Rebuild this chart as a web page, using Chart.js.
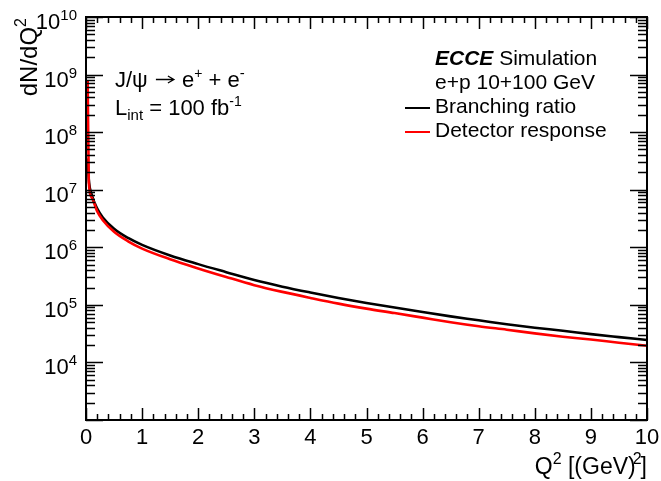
<!DOCTYPE html>
<html>
<head>
<meta charset="utf-8">
<script src="https://cdn.jsdelivr.net/npm/chart.js@4.4.1/dist/chart.umd.min.js"></script>
<style>
html,body{margin:0;padding:0;background:#fff;}
canvas{display:block;}
</style>
</head>
<body>
<canvas id="c" width="661" height="481"></canvas>
<script>
// ---- data ----
const q2 = [0.03, 0.05, 0.1, 0.2, 0.3, 0.5, 0.75, 1, 1.5, 2, 2.5, 3, 3.5, 4, 4.5, 5, 5.5, 6, 6.5, 7, 7.5, 8, 8.5, 9, 9.5, 10];
const branchingRatio = [3.5e7, 1.5e7, 8.3e6, 4.7e6, 3.3e6, 2.1e6, 1.45e6, 1.1e6, 7.2e5, 5.1e5, 3.7e5, 2.7e5, 2.07e5, 1.64e5, 1.32e5, 1.08e5, 9.0e4, 7.5e4, 6.3e4, 5.4e4, 4.6e4, 4.0e4, 3.55e4, 3.1e4, 2.75e4, 2.45e4];
const detectorResponse = [8.0e8, 1.35e7, 7.4e6, 4.2e6, 2.95e6, 1.86e6, 1.27e6, 9.5e5, 6.2e5, 4.3e5, 3.05e5, 2.2e5, 1.68e5, 1.32e5, 1.05e5, 8.6e4, 7.2e4, 6.0e4, 5.0e4, 4.25e4, 3.7e4, 3.2e4, 2.8e4, 2.5e4, 2.2e4, 1.95e4];
const xTickLabels = ['0','1','2','3','4','5','6','7','8','9','10'];
const xTickValues = [0,1,2,3,4,5,6,7,8,9,10];
const yLabelExponents = [4,5,6,7,8,9,10];
const seriesNames = ['Branching ratio', 'Detector response'];

const FONT = "'Liberation Sans', Arial, Helvetica, sans-serif";

function pts(xs, ys){ return xs.map((v,i)=>({x:v, y:ys[i]})); }

function fontOf(s){ return (s.italic?'italic ':'')+(s.bold?'bold ':'')+(s.size||21)+'px '+FONT; }
// draw a sequence of text segments
function drawRich(ctx, x, y, segs, align){
  const widths = segs.map(s=>{
    if(s.arrow) return s.w;
    ctx.font = fontOf(s); return ctx.measureText(s.t).width + (s.kern||0);
  });
  const total = widths.reduce((a,b)=>a+b,0);
  let cx = align==='right' ? x-total : (align==='center' ? x-total/2 : x);
  ctx.textAlign='left'; ctx.textBaseline='alphabetic';
  segs.forEach((s,i)=>{
    if(s.arrow){
      const ay = y - 7.5, x0 = cx+2, x1 = cx+s.w-2;
      ctx.save(); ctx.lineWidth=1.3; ctx.beginPath();
      ctx.moveTo(x0,ay); ctx.lineTo(x1,ay);
      ctx.moveTo(x1-6,ay-3.5); ctx.lineTo(x1,ay); ctx.lineTo(x1-6,ay+3.5);
      ctx.stroke(); ctx.restore();
    } else {
      ctx.font = fontOf(s);
      ctx.fillText(s.t, cx, y + (s.dy||0));
    }
    cx += widths[i];
  });
}

const rootStyle = {
  id:'rootStyle',
  afterDraw(chart){
    const {ctx, chartArea:{left,right,top,bottom}, scales:{x,y}} = chart;
    ctx.save();
    ctx.fillStyle='#000'; ctx.strokeStyle='#000';
    // ticks
    ctx.lineWidth=1.5;
    ctx.beginPath();
    for(let i=0;i<=50;i++){
      const v=i/5, px=Math.round(x.getPixelForValue(v))+0.5;
      const len = (i%5===0)?12:6;
      ctx.moveTo(px,bottom); ctx.lineTo(px,bottom-len);
      ctx.moveTo(px,top); ctx.lineTo(px,top+len);
    }
    for(let e=3;e<=10;e++){
      for(let m=1;m<=9;m++){
        if(e===10 && m>1) break;
        const v=m*Math.pow(10,e);
        const py=Math.round(y.getPixelForValue(v))+0.5;
        const len=(m===1)?17:9;
        ctx.moveTo(left,py); ctx.lineTo(left+len,py);
        ctx.moveTo(right,py); ctx.lineTo(right-len,py);
      }
    }
    ctx.stroke();
    // frame
    ctx.lineWidth=2;
    ctx.strokeRect(left,top,right-left,bottom-top);

    // x tick labels
    ctx.font='22px '+FONT; ctx.textAlign='center'; ctx.textBaseline='alphabetic';
    xTickValues.forEach((v,i)=>{
      ctx.fillText(xTickLabels[i], x.getPixelForValue(v), 444);
    });
    // y tick labels 10^n
    yLabelExponents.forEach(e=>{
      const py=y.getPixelForValue(Math.pow(10,e));
      drawRich(ctx, 77, py+12, [{t:'10',size:22},{t:String(e),size:15,dy:-9}], 'right');
    });
    // y title (rotated)
    ctx.save();
    ctx.translate(37,18);
    ctx.rotate(-Math.PI/2);
    drawRich(ctx, 0, 0, [{t:'dN/dQ',size:24},{t:'2',size:16,dy:-11}], 'right');
    ctx.restore();
    // x title
    drawRich(ctx, 647, 474, [{t:'Q',size:23},{t:'2',size:16,dy:-10},{t:' [(GeV)',size:23,kern:-3},{t:'2',size:16,dy:-10,kern:-1},{t:']',size:23}], 'right');

    // top-left text
    drawRich(ctx, 115, 87, [{t:'J/\u03C8 ',size:22},{arrow:true,w:22},{t:' e',size:22},{t:'+',size:14,dy:-9},{t:' + e',size:22},{t:'-',size:15,dy:-9}], 'left');
    drawRich(ctx, 115, 115, [{t:'L',size:22},{t:'int',size:15,dy:5},{t:' = 100 fb',size:22},{t:'-1',size:14,dy:-9}], 'left');

    // right legend
    drawRich(ctx, 435, 65, [{t:'ECCE',size:21,bold:true,italic:true},{t:' Simulation',size:21}], 'left');
    drawRich(ctx, 435, 89, [{t:'e+p 10+100 GeV',size:21}], 'left');
    drawRich(ctx, 435, 113, [{t:seriesNames[0],size:21}], 'left');
    drawRich(ctx, 435, 137, [{t:seriesNames[1],size:21}], 'left');
    ctx.lineWidth=2;
    ctx.strokeStyle='#000'; ctx.beginPath(); ctx.moveTo(405,108); ctx.lineTo(430,108); ctx.stroke();
    ctx.strokeStyle='#ff0000'; ctx.beginPath(); ctx.moveTo(405,132); ctx.lineTo(430,132); ctx.stroke();
    ctx.restore();
  }
};

new Chart(document.getElementById('c'), {
  type:'line',
  data:{
    datasets:[
      {label:seriesNames[1], data:pts(q2,detectorResponse), borderColor:'#ff0000', borderWidth:2.6, pointRadius:0, cubicInterpolationMode:'monotone', fill:false},
      {label:seriesNames[0], data:pts(q2,branchingRatio), borderColor:'#000000', borderWidth:2.6, pointRadius:0, cubicInterpolationMode:'monotone', fill:false}
    ]
  },
  options:{
    responsive:false, animation:false, devicePixelRatio:1,
    layout:{padding:{left:86,right:14,top:17,bottom:61}},
    plugins:{legend:{display:false}, tooltip:{enabled:false}},
    scales:{
      x:{type:'linear', min:0, max:10, display:false},
      y:{type:'logarithmic', min:1e3, max:1e10, display:false}
    }
  },
  plugins:[rootStyle]
});
</script>
</body>
</html>
